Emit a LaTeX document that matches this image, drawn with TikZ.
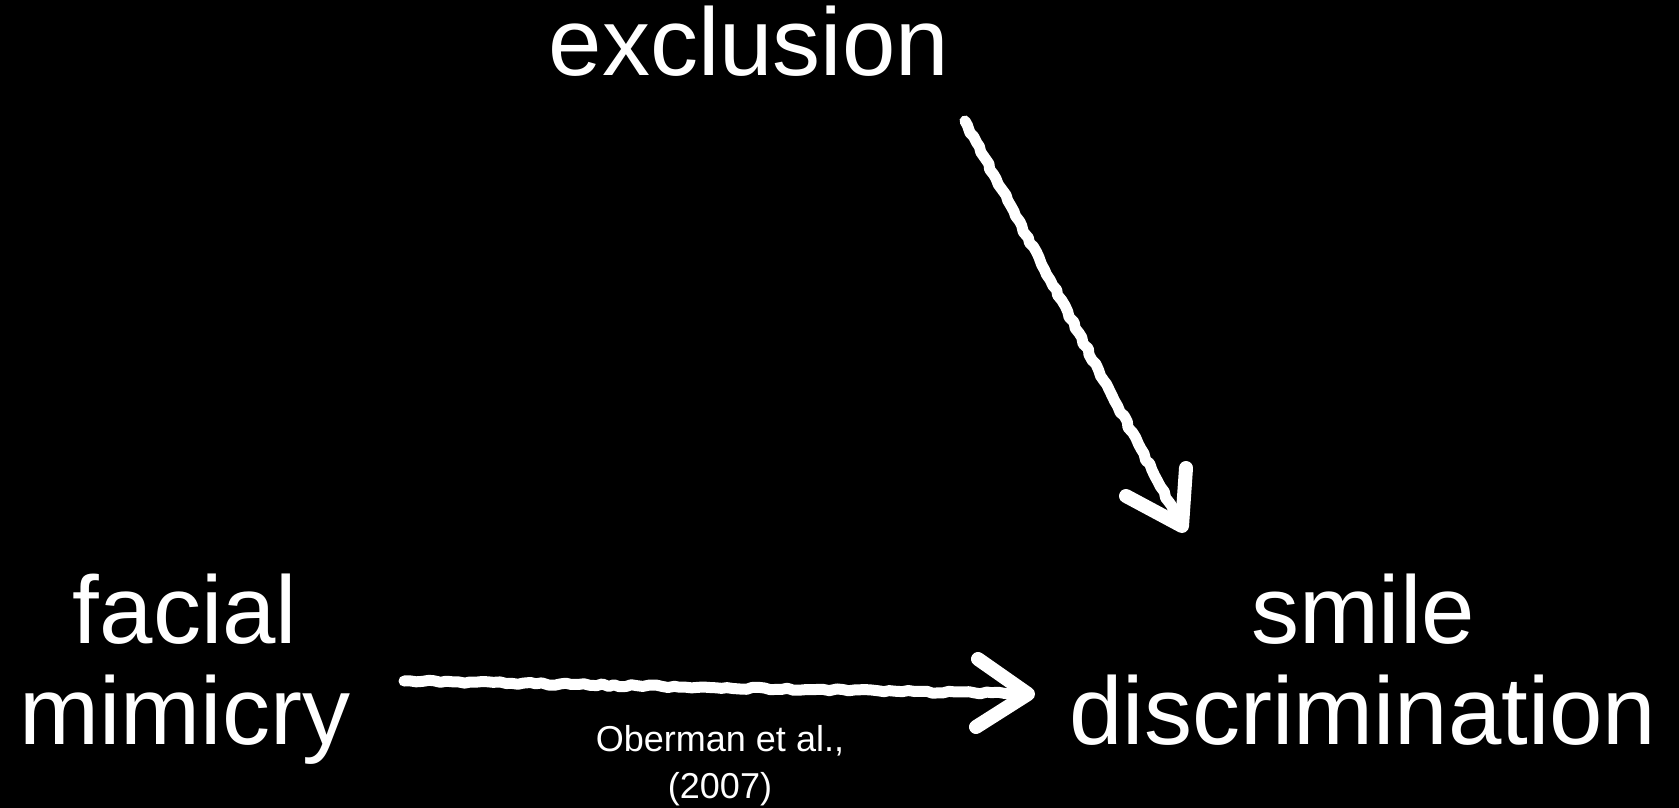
\documentclass[tikz,border=0pt]{standalone}
\usepackage{fontspec}
\setmainfont{Liberation Sans}
\usetikzlibrary{calc,decorations.pathmorphing}
\begin{document}
\begin{tikzpicture}[x=1pt,y=-1pt,
  big/.style={text=white, font=\fontsize{96}{101}\selectfont, align=center, inner sep=0pt, anchor=base},
  citetext/.style={text=white, font=\fontsize{36}{47}\selectfont, align=center, inner sep=0pt, anchor=base},
  chalk/.style={draw=white, line width=11pt, line cap=round, line join=round,
    decorate, decoration={random steps, segment length=6pt, amplitude=1.2pt}},
  chalkhead/.style={draw=white, line width=14pt, line cap=round, line join=round}]
\fill[black] (0,0) rectangle (1679,808);
\useasboundingbox (0,0) rectangle (1679,808);
\pgfmathsetseed{7}
\node[big] (ex) at (749,75) {exclusion};
\node[big] (fm) at (185,744) {facial\\mimicry};
\node[big] (sd) at (1363,744) {smile\\discrimination};
\node[citetext] (ob) at (720,798) {Oberman et al.,\\(2007)};
% horizontal arrow
\coordinate (a1s) at (404,681);
\coordinate (a1t) at (1028,694);
\coordinate (a1b1) at (978,659);
\coordinate (a1b2) at (976,727);
\draw[chalk] (a1s) -- (a1t);
\draw[chalkhead] (a1b1) -- (a1t) -- (a1b2);
% diagonal arrow
\coordinate (a2s) at (965,121);
\coordinate (a2t) at (1182,526);
\coordinate (a2b1) at (1126,496);
\coordinate (a2b2) at (1186,468);
\draw[chalk] (a2s) -- (a2t);
\draw[chalkhead] (a2b1) -- (a2t) -- (a2b2);
\end{tikzpicture}
\end{document}
